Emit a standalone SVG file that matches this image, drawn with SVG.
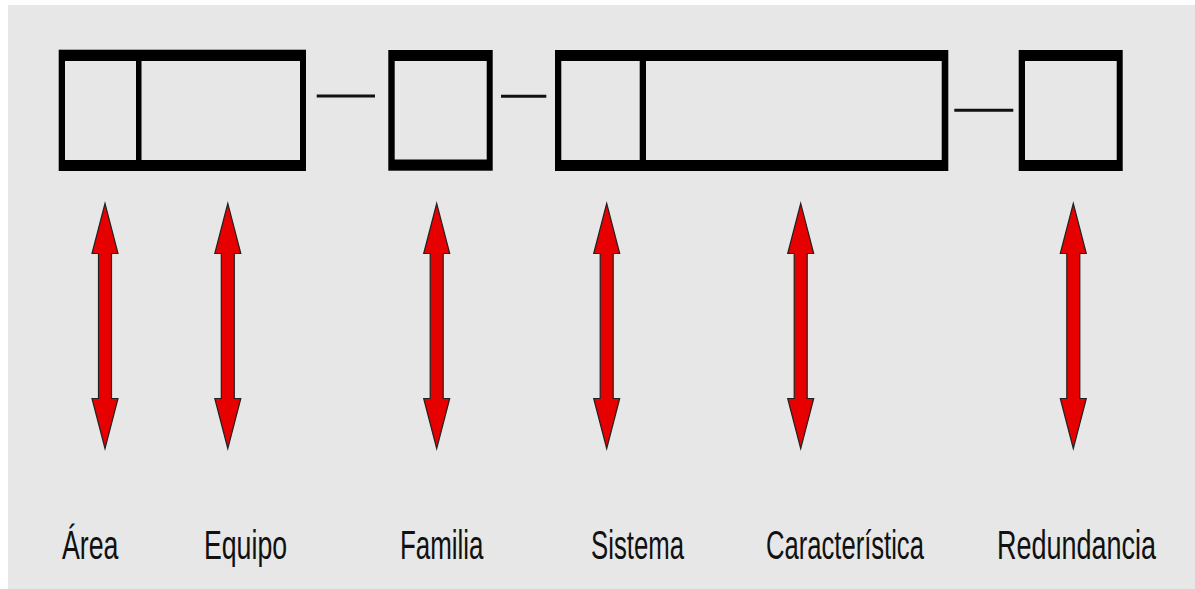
<svg xmlns="http://www.w3.org/2000/svg" width="1195" height="589" viewBox="0 0 1195 589">
  <style>
    .frame { fill: #000000; }
    .inner { fill: #e7e7e7; }
    .link { stroke: #111111; stroke-width: 3; fill: none; }
    .arrow { fill: #e60000; stroke: #222222; stroke-width: 1.2; stroke-linejoin: miter; }
    .label { font-family: "Liberation Sans", Arial, sans-serif; font-size: 40px; fill: #111111; }
  </style>
  <defs>
    <path id="dblArrow" d="M0,203.5 L13,253.5 L6.5,253.5 L6.5,398.5 L13,398.5 L0,448.5 L-13,398.5 L-6.5,398.5 L-6.5,253.5 L-13,253.5 Z"/>
  </defs>
  <rect x="0" y="0" width="1195" height="589" fill="#ffffff"/>
  <rect x="8" y="5" width="1187" height="584" fill="#e7e7e7"/>

  <g id="connectors">
    <line class="link" x1="316.7" y1="96" x2="375" y2="96"/>
    <line class="link" x1="501" y1="96.3" x2="546.3" y2="96.3"/>
    <line class="link" x1="954.3" y1="110.3" x2="1013.3" y2="110.3"/>
  </g>

  <g id="box-area-equipo">
    <rect class="frame" x="58.7" y="49.7" width="247.3" height="121.3"/>
    <rect class="inner" x="65" y="61" width="235" height="99"/>
    <rect class="frame" x="136" y="61" width="5.5" height="99"/>
  </g>
  <g id="box-familia">
    <rect class="frame" x="388.3" y="50" width="104.4" height="120.7"/>
    <rect class="inner" x="394.7" y="61" width="92" height="98.5"/>
  </g>
  <g id="box-sistema-caracteristica">
    <rect class="frame" x="555" y="50" width="393.3" height="121"/>
    <rect class="inner" x="561.3" y="61" width="380.4" height="99"/>
    <rect class="frame" x="639.7" y="61" width="6.3" height="99"/>
  </g>
  <g id="box-redundancia">
    <rect class="frame" x="1018.7" y="50" width="104" height="121"/>
    <rect class="inner" x="1025" y="61" width="91.7" height="99"/>
  </g>

  <g id="arrows">
    <use href="#dblArrow" class="arrow" x="105"/>
    <use href="#dblArrow" class="arrow" x="227.8"/>
    <use href="#dblArrow" class="arrow" x="436.7"/>
    <use href="#dblArrow" class="arrow" x="606.7"/>
    <use href="#dblArrow" class="arrow" x="800.7"/>
    <use href="#dblArrow" class="arrow" x="1073.3"/>
  </g>

  <g id="labels">
    <text class="label" transform="translate(62,559) scale(0.669,1)">Área</text>
    <text class="label" transform="translate(204,559) scale(0.667,1)">Equipo</text>
    <text class="label" transform="translate(400,559) scale(0.648,1)">Familia</text>
    <text class="label" transform="translate(591,559) scale(0.644,1)">Sistema</text>
    <text class="label" transform="translate(766,559) scale(0.640,1)">Característica</text>
    <text class="label" transform="translate(997,559) scale(0.675,1)">Redundancia</text>
  </g>
</svg>
